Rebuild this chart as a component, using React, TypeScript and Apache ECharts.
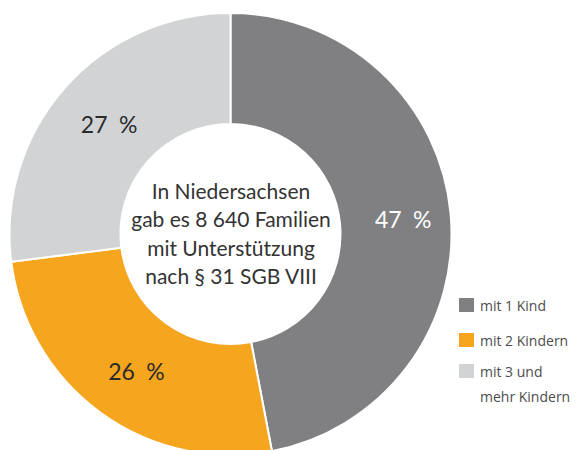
import React, { useEffect, useRef } from "react";
import * as echarts from "echarts";

const categories = ["mit 1 Kind", "mit 2 Kindern", "mit 3 und mehr Kindern"];
const legendLabels = ["mit 1 Kind", "mit 2 Kindern", "\nmit 3 und\nmehr Kindern"];
const shares = [47, 26, 27];
const colors = ["#808083", "#F5A51E", "#D2D3D5"];
const labelColors = ["#ffffff", "#2b2b2b", "#2b2b2b"];
const centerText = [
  "In Niedersachsen",
  "gab es 8 640 Familien",
  "mit Unterstützung",
  "nach § 31 SGB VIII",
];

const FONT = "Lato, 'Open Sans', sans-serif";
const LEGEND_FONT = "'Open Sans', 'Noto Sans', sans-serif";

export default function App() {
  const ref = useRef<HTMLDivElement>(null);
  useEffect(() => {
    if (!ref.current) return;
    const chart = echarts.init(ref.current, undefined, { renderer: "svg" });
    const legendBase = {
      orient: "vertical",
      left: 457,
      padding: 0,
      itemWidth: 17,
      itemHeight: 16,
      itemGap: 17,
      icon: "rect",
      selectedMode: false,
      formatter: (name: string) => legendLabels[categories.indexOf(name)],
    };
    const option = {
      animation: false,
      backgroundColor: "#ffffff",
      legend: [
        {
          ...legendBase,
          top: 296,
          textStyle: {
            fontFamily: LEGEND_FONT,
            fontSize: 14,
            lineHeight: 16,
            color: "#4d4d4d",
          },
          data: [categories[0], categories[1]],
        },
        {
          ...legendBase,
          bottom: 41.5,
          textStyle: {
            fontFamily: LEGEND_FONT,
            fontSize: 14,
            lineHeight: 25,
            color: "#4d4d4d",
          },
          data: [categories[2]],
        },
      ],
      graphic: [
        {
          type: "text",
          x: 231,
          y: 233,
          style: {
            x: 0,
            y: 0,
            text: centerText.join("\n"),
            fontFamily: FONT,
            fontSize: 21,
            lineHeight: 28.5,
            fill: "#333333",
            align: "center",
            verticalAlign: "middle",
          },
          silent: true,
        },
      ],
      series: [
        {
          type: "pie",
          center: [230.5, 234],
          radius: [110, 221],
          startAngle: 90,
          clockwise: true,
          avoidLabelOverlap: false,
          emphasis: { disabled: true },
          itemStyle: { borderColor: "#ffffff", borderWidth: 2 },
          label: {
            show: true,
            position: "inside",
            fontFamily: FONT,
            fontSize: 23,
            offset: [5, 1],
            formatter: (p: any) => `${p.value}\u2002%`,
          },
          labelLine: { show: false },
          data: categories.map((c, i) => ({
            name: c,
            value: shares[i],
            itemStyle: { color: colors[i] },
            label: { color: labelColors[i] },
          })),
        },
      ],
    };
    chart.setOption(option as any);
    return () => chart.dispose();
  }, []);
  return (
    <div
      ref={ref}
      style={{ position: "fixed", left: 0, top: 0, width: 576, height: 450 }}
    />
  );
}
